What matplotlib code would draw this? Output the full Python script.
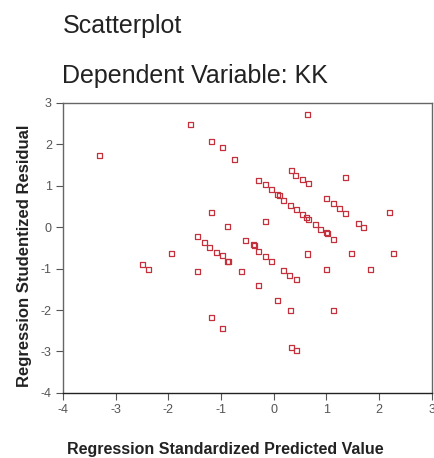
"""SPSS-style residual scatterplot: studentized residual vs standardized predicted value."""

import matplotlib
matplotlib.use("Agg")
import matplotlib.pyplot as plt

plt.rcParams["font.family"] = ["Liberation Sans", "DejaVu Sans"]
plt.rcParams["axes.unicode_minus"] = False

# values
pred = [-3.31, -1.57, -1.19, -0.98, -0.74, -1.19, -0.87, -1.45, -1.31, -1.21,
        -1.08, -0.98, -0.87, -0.85, -1.94, -0.53, -2.49, -2.37, -1.45, -0.62,
        -1.19, -0.97, 0.65, 0.33, 0.42, 0.55, 0.66, 1.36, -0.28, -0.16,
        -0.05, 0.08, 0.11, 0.18, 0.31, 0.43, 0.55, 0.62, 0.66, 0.79,
        0.89, 1.00, 1.02, 1.13, 1.01, 1.13, 1.25, 1.36, 1.60, 1.71,
        2.19, -0.16, -0.38, -0.36, -0.28, -0.16, -0.05, 0.65, 1.48, 2.28,
        0.19, 0.30, 0.43, 1.01, 1.84, -0.28, 0.08, 0.31, 1.13, 0.33,
        0.43]
resid = [1.73, 2.46, 2.06, 1.92, 1.64, 0.35, 0.02, -0.23, -0.37, -0.49,
         -0.61, -0.69, -0.82, -0.83, -0.63, -0.33, -0.91, -1.03, -1.08, -1.08,
         -2.18, -2.44, 2.71, 1.37, 1.24, 1.15, 1.04, 1.20, 1.13, 1.02,
         0.90, 0.79, 0.76, 0.65, 0.52, 0.42, 0.31, 0.22, 0.19, 0.06,
         -0.06, -0.12, -0.16, -0.31, 0.69, 0.56, 0.45, 0.32, 0.09, -0.02,
         0.35, 0.14, -0.43, -0.44, -0.58, -0.70, -0.82, -0.65, -0.63, -0.63,
         -1.04, -1.16, -1.26, -1.03, -1.03, -1.42, -1.78, -2.01, -2.01, -2.91,
         -2.97]

xticks = [-4, -3, -2, -1, 0, 1, 2, 3]
yticks = [-4, -3, -2, -1, 0, 1, 2, 3]

fig = plt.figure(figsize=(4.34, 4.58), dpi=100)
ax = fig.add_axes([0.145, 0.142, 0.85, 0.634])

ax.scatter(pred, resid, marker="s", s=13, facecolors="none",
           edgecolors="#c4303c", linewidths=0.9)

ax.set_xlim(-4, 3)
ax.set_ylim(-4, 3)
ax.set_xticks(xticks)
ax.set_yticks(yticks)
ax.tick_params(direction="out", length=5, width=0.8, color="#555555",
               labelsize=9, labelcolor="#555555", pad=3)
for side in ("top", "right", "left"):
    ax.spines[side].set_color("#666666")
ax.spines["bottom"].set_color("#222222")
for sp in ax.spines.values():
    sp.set_linewidth(1.0)

ax.set_xlabel("Regression Standardized Predicted Value", fontsize=11.5,
              fontweight="bold", color="#222222")
ax.xaxis.set_label_coords(0.44, -0.168)
ax.set_ylabel("Regression Studentized Residual", fontsize=12,
              fontweight="bold", color="#222222")
ax.yaxis.set_label_coords(-0.083, 0.472)

fig.text(0.144, 0.928, "Scatterplot", fontsize=18, color="#222222")
fig.text(0.144, 0.819, "Dependent Variable: KK", fontsize=18, color="#222222")

fig.savefig("out.png", dpi=100, facecolor="white")
